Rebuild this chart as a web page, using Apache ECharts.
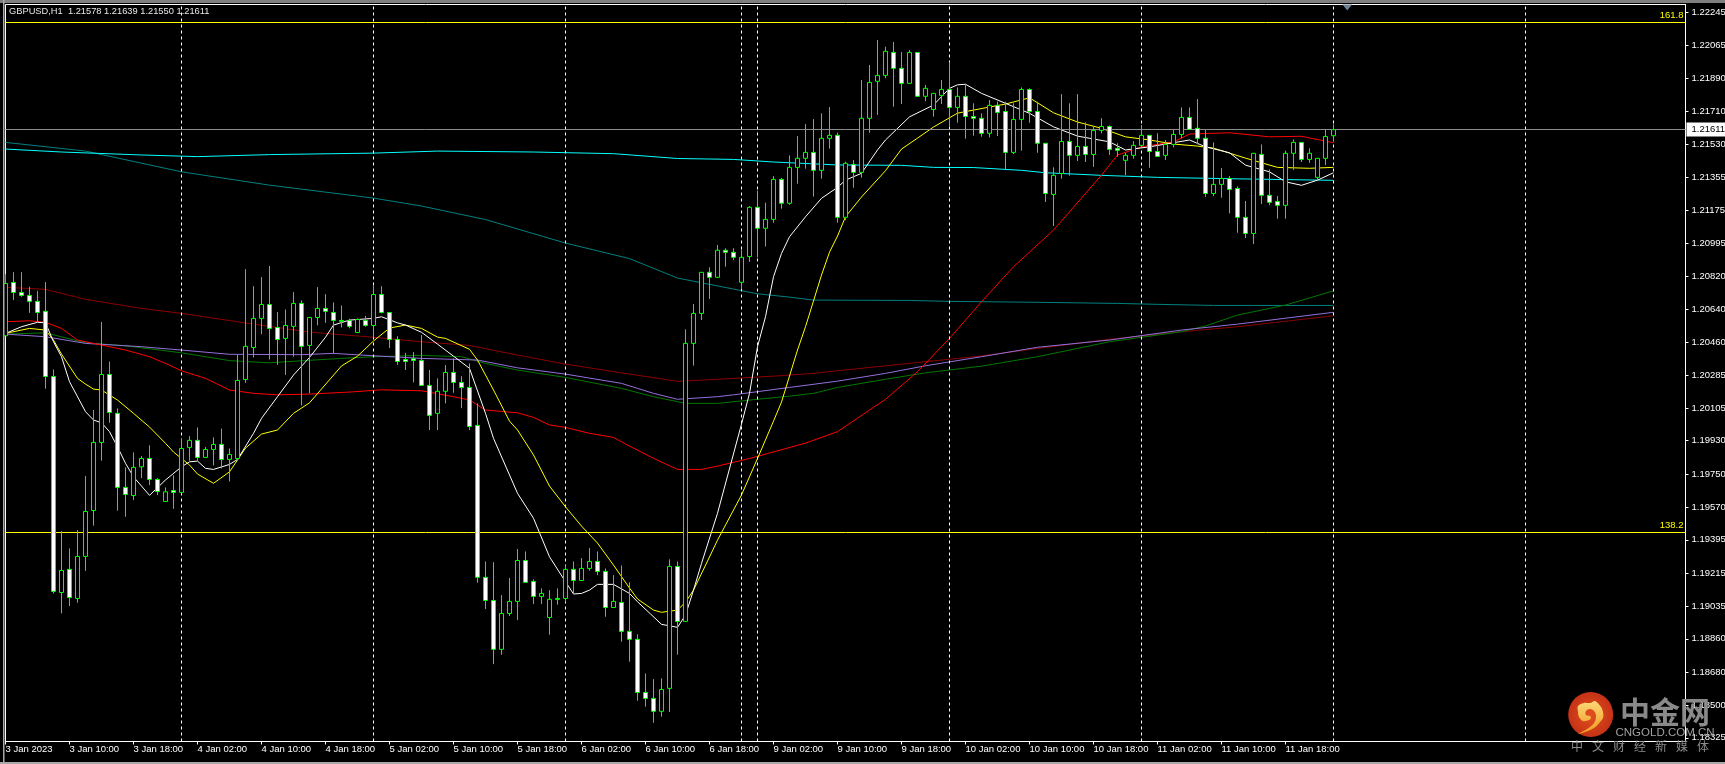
<!DOCTYPE html>
<html><head><meta charset="utf-8">
<style>html,body{margin:0;padding:0;background:#000}#c{width:1725px;height:764px}</style>
<script src="https://cdn.jsdelivr.net/npm/echarts@6/dist/echarts.min.js"></script>
</head><body><div id="c"></div>
<script>
const chartTitle = 'GBPUSD,H1  1.21578 1.21639 1.21550 1.21611';
const tickLabels = ['3 Jan 2023','3 Jan 10:00','3 Jan 18:00','4 Jan 02:00','4 Jan 10:00','4 Jan 18:00','5 Jan 02:00','5 Jan 10:00','5 Jan 18:00','6 Jan 02:00','6 Jan 10:00','6 Jan 18:00','9 Jan 02:00','9 Jan 10:00','9 Jan 18:00','10 Jan 02:00','10 Jan 10:00','10 Jan 18:00','11 Jan 02:00','11 Jan 10:00','11 Jan 18:00'];
const priceTicks = [1.22245,1.22065,1.21890,1.21710,1.21530,1.21355,1.21175,1.20995,1.20820,1.20640,1.20460,1.20285,1.20105,1.19930,1.19750,1.19570,1.19395,1.19215,1.19035,1.18860,1.18680,1.18500,1.18325];
const separators = [22,46,70,92,94,118,142,166,190];
const bidPrice = 1.21611, fib1618 = 1.22191, fib1382 = 1.19436;

const open = [1.20497,1.20785,1.20731,1.20715,1.20683,1.20629,1.20277,1.19110,1.19235,1.19078,1.19305,1.19553,1.19921,1.20288,1.20078,1.19678,1.19634,1.19789,1.19834,1.19721,1.19602,1.19661,1.19651,1.19894,1.19932,1.19840,1.19883,1.19910,1.19829,1.19834,1.20261,1.20434,1.20591,1.20666,1.20542,1.20483,1.20548,1.20672,1.20445,1.20596,1.20645,1.20623,1.20580,1.20580,1.20515,1.20580,1.20553,1.20720,1.20623,1.20477,1.20369,1.20373,1.20364,1.20229,1.20078,1.20197,1.20299,1.20245,1.20218,1.20013,1.19192,1.19067,1.18803,1.18997,1.19062,1.19283,1.19170,1.19089,1.18975,1.19078,1.19078,1.19235,1.19175,1.19240,1.19278,1.19224,1.19029,1.19056,1.18900,1.18857,1.18570,1.18538,1.18468,1.18592,1.19251,1.18954,1.20456,1.20618,1.20840,1.20813,1.20959,1.20948,1.20786,1.20925,1.21191,1.21078,1.21126,1.21342,1.21213,1.21407,1.21456,1.21488,1.21391,1.21564,1.21580,1.21137,1.21423,1.21380,1.21672,1.21872,1.21904,1.22028,1.21942,1.21861,1.22028,1.21791,1.21720,1.21796,1.21828,1.21731,1.21791,1.21682,1.21672,1.21591,1.21742,1.21709,1.21488,1.21666,1.21828,1.21709,1.21537,1.21261,1.21374,1.21547,1.21472,1.21520,1.21477,1.21607,1.21628,1.21510,1.21445,1.21472,1.21526,1.21580,1.21493,1.21472,1.21531,1.21585,1.21677,1.21618,1.21564,1.21266,1.21315,1.21347,1.21293,1.21137,1.21050,1.21477,1.21256,1.21223,1.21202,1.21483,1.21542,1.21450,1.21353,1.21456,1.21578];
const high = [1.20830,1.20841,1.20841,1.20762,1.20740,1.20787,1.20315,1.19442,1.19348,1.19447,1.19739,1.20096,1.20571,1.20358,1.20105,1.19786,1.19867,1.19847,1.19905,1.19728,1.19678,1.19743,1.19942,1.19955,1.20002,1.19897,1.19948,1.19996,1.19888,1.20394,1.20857,1.20765,1.20814,1.20874,1.20625,1.20639,1.20733,1.20688,1.20596,1.20760,1.20722,1.20677,1.20661,1.20589,1.20591,1.20605,1.20769,1.20765,1.20623,1.20495,1.20405,1.20409,1.20501,1.20312,1.20267,1.20339,1.20375,1.20279,1.20348,1.20132,1.19278,1.19274,1.19096,1.19188,1.19345,1.19332,1.19181,1.19132,1.19123,1.19132,1.19256,1.19278,1.19296,1.19350,1.19332,1.19240,1.19204,1.19256,1.19165,1.18884,1.18673,1.18642,1.18646,1.19289,1.19278,1.20532,1.20669,1.20840,1.20867,1.20988,1.20970,1.20970,1.20961,1.21198,1.21281,1.21216,1.21360,1.21350,1.21472,1.21576,1.21641,1.21668,1.21699,1.21733,1.21594,1.21438,1.21447,1.21879,1.21960,1.22095,1.22059,1.22084,1.22030,1.22041,1.22028,1.21852,1.21807,1.21879,1.21976,1.21839,1.21855,1.21753,1.21699,1.21771,1.21762,1.21762,1.21753,1.21839,1.21834,1.21762,1.21537,1.21407,1.21803,1.21753,1.21803,1.21650,1.21627,1.21673,1.21634,1.21537,1.21486,1.21549,1.21636,1.21582,1.21591,1.21555,1.21609,1.21731,1.21731,1.21776,1.21609,1.21542,1.21403,1.21360,1.21304,1.21225,1.21483,1.21531,1.21396,1.21252,1.21497,1.21558,1.21542,1.21510,1.21456,1.21609,1.21639];
const low = [1.20497,1.20690,1.20708,1.20621,1.20569,1.20211,1.19105,1.18997,1.19037,1.19055,1.19227,1.19471,1.19822,1.20027,1.19552,1.19519,1.19609,1.19728,1.19690,1.19636,1.19600,1.19562,1.19645,1.19822,1.19822,1.19840,1.19797,1.19780,1.19710,1.19825,1.20243,1.20380,1.20506,1.20369,1.20340,1.20286,1.20384,1.20121,1.20186,1.20553,1.20567,1.20402,1.20542,1.20537,1.20515,1.20546,1.20488,1.20618,1.20431,1.20340,1.20312,1.20245,1.20227,1.19988,1.19988,1.20132,1.20189,1.20106,1.19988,1.19163,1.19020,1.18723,1.18774,1.18983,1.18961,1.19163,1.19048,1.19048,1.18882,1.19044,1.19058,1.19105,1.19174,1.19228,1.19204,1.18979,1.19029,1.18844,1.18736,1.18525,1.18493,1.18406,1.18439,1.18464,1.18774,1.18954,1.20336,1.20582,1.20696,1.20811,1.20870,1.20907,1.20753,1.20896,1.20921,1.20979,1.21108,1.21184,1.21205,1.21319,1.21400,1.21249,1.21346,1.21508,1.21108,1.21122,1.21297,1.21351,1.21594,1.21690,1.21888,1.21735,1.21749,1.21861,1.21791,1.21765,1.21681,1.21749,1.21627,1.21648,1.21562,1.21578,1.21573,1.21569,1.21576,1.21393,1.21479,1.21497,1.21648,1.21486,1.21220,1.21090,1.21346,1.21362,1.21441,1.21436,1.21410,1.21591,1.21474,1.21465,1.21365,1.21454,1.21515,1.21405,1.21465,1.21447,1.21515,1.21564,1.21609,1.21531,1.21248,1.21252,1.21243,1.21158,1.21054,1.21025,1.20993,1.21209,1.21203,1.21130,1.21130,1.21393,1.21436,1.21432,1.21338,1.21419,1.21550];
const close = [1.20780,1.20731,1.20715,1.20683,1.20623,1.20277,1.19116,1.19229,1.19083,1.19305,1.19548,1.19921,1.20288,1.20083,1.19678,1.19640,1.19786,1.19834,1.19721,1.19656,1.19654,1.19651,1.19888,1.19932,1.19840,1.19883,1.19910,1.19829,1.19856,1.20256,1.20440,1.20591,1.20666,1.20537,1.20477,1.20553,1.20672,1.20440,1.20596,1.20645,1.20629,1.20580,1.20575,1.20548,1.20585,1.20553,1.20720,1.20623,1.20477,1.20358,1.20358,1.20364,1.20229,1.20067,1.20197,1.20299,1.20245,1.20218,1.20007,1.19192,1.19067,1.18803,1.18997,1.19062,1.19283,1.19165,1.19089,1.19105,1.19073,1.19073,1.19235,1.19175,1.19240,1.19278,1.19224,1.19029,1.19062,1.18900,1.18857,1.18570,1.18538,1.18468,1.18586,1.19251,1.18954,1.20456,1.20618,1.20840,1.20813,1.20959,1.20948,1.20921,1.20921,1.21191,1.21078,1.21126,1.21342,1.21213,1.21407,1.21456,1.21488,1.21391,1.21564,1.21580,1.21137,1.21429,1.21380,1.21672,1.21866,1.21904,1.22034,1.21942,1.21861,1.22028,1.21791,1.21834,1.21807,1.21828,1.21731,1.21791,1.21682,1.21672,1.21591,1.21742,1.21704,1.21488,1.21666,1.21828,1.21709,1.21537,1.21266,1.21364,1.21547,1.21472,1.21520,1.21477,1.21607,1.21628,1.21504,1.21499,1.21472,1.21526,1.21580,1.21493,1.21466,1.21531,1.21585,1.21677,1.21612,1.21564,1.21266,1.21315,1.21347,1.21288,1.21137,1.21050,1.21483,1.21256,1.21218,1.21202,1.21483,1.21542,1.21450,1.21483,1.21456,1.21574,1.21611];

const whiteIdx = [0,2,4,5,6,7,8,10,11,12,13,14,15,16,18,20,22,23,24,25,26,28,29,31,32,34,36,38,40,41,43,46,47,49,50,52,54,56,58,60,61,63,64,66,68,70,71,72,73,74,76,78,79,82,84,85,86,87,89,92,93,94,95,96,97,98,100,102,104,105,107,109,110,113,116,118,119,120,122,125,128,131,134,138,140,143,148,150,153,155,158,160,162,164,166];
const whiteVal = [1.20510,1.20546,1.20570,1.20567,1.20465,1.20384,1.20249,1.20087,1.20042,1.20027,1.19979,1.19897,1.19808,1.19735,1.19635,1.19718,1.19789,1.19816,1.19820,1.19781,1.19775,1.19802,1.19829,1.19970,1.20051,1.20168,1.20285,1.20380,1.20489,1.20555,1.20582,1.20591,1.20600,1.20567,1.20555,1.20516,1.20452,1.20387,1.20321,1.20078,1.19943,1.19745,1.19646,1.19511,1.19303,1.19168,1.19102,1.19105,1.19123,1.19154,1.19154,1.19105,1.19060,1.18938,1.18922,1.18988,1.19123,1.19267,1.19538,1.20020,1.20186,1.20438,1.20600,1.20816,1.20942,1.21032,1.21140,1.21240,1.21299,1.21338,1.21375,1.21501,1.21555,1.21680,1.21744,1.21834,1.21853,1.21856,1.21807,1.21753,1.21699,1.21626,1.21576,1.21545,1.21501,1.21518,1.21555,1.21518,1.21486,1.21419,1.21383,1.21329,1.21310,1.21338,1.21378];
const yellowIdx = [0,3,5,6,7,9,10,11,12,14,16,18,20,21,23,24,26,28,30,32,34,36,38,42,44,46,48,50,52,54,55,58,59,61,63,64,66,68,70,72,74,76,78,79,81,82,84,85,86,88,89,92,94,96,97,99,100,102,103,104,105,107,110,112,114,116,119,123,125,128,131,134,137,140,143,146,149,151,155,159,163,166];
const yellowVal = [1.20510,1.20537,1.20528,1.20474,1.20398,1.20267,1.20236,1.20209,1.20204,1.20150,1.20078,1.20004,1.19916,1.19869,1.19799,1.19750,1.19700,1.19762,1.19890,1.19966,1.19988,1.20078,1.20135,1.20334,1.20387,1.20469,1.20539,1.20555,1.20537,1.20490,1.20483,1.20424,1.20366,1.20204,1.20036,1.19988,1.19853,1.19685,1.19573,1.19469,1.19377,1.19258,1.19134,1.19075,1.19015,1.19003,1.19015,1.19058,1.19123,1.19302,1.19393,1.19637,1.19834,1.20036,1.20139,1.20420,1.20546,1.20825,1.20949,1.21036,1.21140,1.21247,1.21389,1.21506,1.21565,1.21625,1.21700,1.21733,1.21749,1.21783,1.21702,1.21652,1.21618,1.21572,1.21555,1.21533,1.21522,1.21511,1.21457,1.21407,1.21402,1.21407];
const redIdx = [0,3,5,7,9,12,15,18,20,22,25,28,31,34,38,43,47,52,56,58,60,64,66,68,70,73,76,78,81,84,87,89,93,100,104,110,114,118,122,126,131,137,139,142,146,148,153,158,162,166];
const redVal = [1.20573,1.20578,1.20570,1.20537,1.20474,1.20447,1.20420,1.20384,1.20348,1.20308,1.20267,1.20204,1.20186,1.20178,1.20182,1.20193,1.20205,1.20200,1.20168,1.20150,1.20096,1.20081,1.20056,1.20015,1.20002,1.19970,1.19948,1.19901,1.19835,1.19775,1.19775,1.19793,1.19834,1.19917,1.19979,1.20154,1.20303,1.20483,1.20681,1.20870,1.21068,1.21365,1.21474,1.21518,1.21545,1.21587,1.21594,1.21572,1.21575,1.21540];
const maroonIdx = [0,5,10,17,22,31,38,46,52,58,64,70,77,84,89,91,96,101,104,115,122,129,138,147,154,166];
const maroonVal = [1.20759,1.20748,1.20694,1.20645,1.20618,1.20560,1.20517,1.20489,1.20465,1.20445,1.20393,1.20344,1.20297,1.20251,1.20262,1.20267,1.20279,1.20294,1.20308,1.20357,1.20388,1.20429,1.20478,1.20519,1.20546,1.20605];
const purpleIdx = [0,5,10,17,22,28,37,41,46,52,59,64,70,77,81,84,89,91,98,104,110,115,122,129,138,147,154,166];
const purpleVal = [1.20506,1.20492,1.20456,1.20438,1.20420,1.20397,1.20395,1.20402,1.20389,1.20375,1.20366,1.20324,1.20290,1.20240,1.20186,1.20154,1.20168,1.20178,1.20218,1.20252,1.20294,1.20335,1.20384,1.20435,1.20474,1.20528,1.20560,1.20624];
const greenIdx = [0,5,10,15,22,28,33,37,42,46,52,57,60,64,70,77,81,85,89,94,98,101,104,110,115,122,129,138,142,147,150,154,160,166];
const greenVal = [1.20506,1.20513,1.20459,1.20443,1.20405,1.20363,1.20351,1.20362,1.20375,1.20384,1.20391,1.20384,1.20348,1.20312,1.20272,1.20213,1.20168,1.20132,1.20132,1.20154,1.20171,1.20186,1.20218,1.20262,1.20297,1.20333,1.20384,1.20465,1.20489,1.20519,1.20550,1.20609,1.20663,1.20740];
const cyanIdx = [0,7,17,24,33,46,54,66,76,84,91,96,104,112,116,121,127,130,137,144,154,166];
const cyanVal = [1.21506,1.21490,1.21474,1.21465,1.21476,1.21484,1.21495,1.21490,1.21481,1.21455,1.21450,1.21436,1.21420,1.21418,1.21407,1.21406,1.21391,1.21378,1.21364,1.21353,1.21345,1.21337];
const tealIdx = [0,10,22,33,46,52,60,70,78,84,92,94,98,101,113,118,129,139,144,151,166];
const tealVal = [1.21542,1.21495,1.21383,1.21311,1.21241,1.21198,1.21125,1.20998,1.20914,1.20809,1.20741,1.20724,1.20706,1.20690,1.20688,1.20683,1.20678,1.20672,1.20667,1.20661,1.20661];

const SLOTS = 211;
const categories = [];
for (let i = 0; i < SLOTS; i++) categories.push(i % 8 === 0 && tickLabels[i / 8] ? tickLabels[i / 8] : '');
const candles = open.map((o, i) => [o, close[i], low[i], high[i]]);
const zip = (a, b) => a.map((x, i) => [x, b[i]]);
const FONT = '"Liberation Sans", Arial, sans-serif';

const lineSeries = (name, idx, val, color, extra) => Object.assign({
  name, type: 'line', data: zip(idx, val), showSymbol: false, symbol: 'none', z: 2,
  lineStyle: { color, width: 1 }, silent: true, clip: true
}, extra || {});

const hLine = (v, color, label) => ({
  yAxis: v, lineStyle: { color, width: 1, type: 'solid' }, label
});

const chart = echarts.init(document.getElementById('c'), null, { renderer: 'canvas' });
const g = [];
g.push({ type: 'rect', shape: { x: 0, y: 0, width: 1725, height: 3 }, style: { fill: '#7f7f7f' }, z: 90 });
g.push({ type: 'rect', shape: { x: 3, y: 0, width: 1.5, height: 764 }, style: { fill: '#a8a8a8' }, z: 90 });
g.push({ type: 'rect', shape: { x: 0, y: 762, width: 1725, height: 2 }, style: { fill: '#a8a8a8' }, z: 90 });
g.push({ type: 'polygon', shape: { points: [[1342.5, 4.5], [1352, 4.5], [1347.2, 10.5]] }, style: { fill: '#6d8296' }, z: 90 });
g.push({ type: 'circle', shape: { cx: 1590.7, cy: 714.5, r: 22.5 }, style: { fill: { type: 'radial', x: .5, y: .5, r: .6, colorStops: [{ offset: 0, color: '#e2501f' }, { offset: 1, color: '#bf2c14' }] } }, z: 95 });
g.push({ type: 'polygon', shape: { smooth: 0.35, points: [[1578,712],[1578,706],[1584,703],[1590,703],[1595,701],[1601,707],[1603,712],[1603,718],[1600,722],[1594,728],[1585,732],[1578,734],[1587,729],[1594,723],[1596,716],[1594,711],[1590,709],[1586,711],[1586,715],[1590,716],[1591,718],[1589,720],[1583,721],[1579,717]] }, style: { fill: { type: 'linear', x: 0, y: 0, x2: 0, y2: 1, colorStops: [{ offset: 0, color: '#fbd777' }, { offset: 1, color: '#f19a1c' }] } }, z: 96 });
g.push({ type: 'text', x: 1665, y: 711.5, style: { text: '中金网', fill: '#8a8a8a', font: 'bold 30px "Noto Sans CJK SC"', align: 'center', verticalAlign: 'middle' }, z: 96 });
g.push({ type: 'text', x: 1665, y: 733, style: { text: 'CNGOLD.COM.CN', fill: '#a0a0a0', font: '11.5px "Liberation Sans"', align: 'center', verticalAlign: 'middle' }, z: 96 });
const slogan = ['中', '文', '财', '经', '新', '媒', '体'];
slogan.forEach((ch, i) => g.push({ type: 'text', x: 1577 + i * 21, y: 746, style: { text: ch, fill: '#8c8c8c', font: '12px "Noto Sans CJK SC"', align: 'center', verticalAlign: 'middle' }, z: 96 }));

chart.setOption({
  animation: false,
  backgroundColor: '#000',
  title: { text: chartTitle, left: 9, top: 7, padding: 0, textStyle: { color: '#e8e8e8', fontSize: 9.3, fontWeight: 'normal', fontFamily: FONT } },
  grid: { left: 5.5, top: 4.5, width: 1680, height: 737, show: true, borderColor: '#fff', borderWidth: 1, backgroundColor: '#000', containLabel: false, outerBoundsMode: 'none' },
  xAxis: {
    type: 'category', data: categories, boundaryGap: false,
    axisLine: { show: true, lineStyle: { color: '#fff', width: 1 } },
    axisTick: { show: true, length: 3, lineStyle: { color: '#fff' }, interval: (i, v) => v !== '' },
    axisLabel: { show: true, color: '#fff', fontSize: 9.5, fontFamily: FONT, align: 'left', margin: 3, interval: (i, v) => v !== '', hideOverlap: false },
    splitLine: { show: false }
  },
  yAxis: {
    type: 'value', position: 'right', min: 1.18305, max: 1.22287, scale: true,
    axisLine: { show: true, lineStyle: { color: '#fff', width: 1 } },
    axisTick: { show: true, length: 3, lineStyle: { color: '#fff' }, customValues: priceTicks },
    axisLabel: { show: true, color: '#fff', fontSize: 9.5, fontFamily: FONT, margin: 6, customValues: priceTicks, formatter: v => v.toFixed(5) },
    splitLine: { show: false }
  },
  series: [
    lineSeries('teal', tealIdx, tealVal, '#008080', {
      z: 1,
      markLine: {
        silent: true, symbol: 'none', animation: false, label: { show: false },
        lineStyle: { color: '#fff', width: 1, type: [3, 3] },
        data: separators.map(i => ({ xAxis: i }))
      }
    }),
    lineSeries('cyan', cyanIdx, cyanVal, '#00ffff'),
    lineSeries('maroon', maroonIdx, maroonVal, '#8b0000'),
    lineSeries('green', greenIdx, greenVal, '#007800'),
    lineSeries('purple', purpleIdx, purpleVal, '#9370db'),
    lineSeries('red', redIdx, redVal, '#ff0000'),
    lineSeries('yellow', yellowIdx, yellowVal, '#ffff00'),
    lineSeries('white', whiteIdx, whiteVal, '#ffffff', {
      markLine: {
        silent: true, symbol: 'none', animation: false, precision: 5,
        data: [
          hLine(fib1618, '#ffff00', { show: true, position: 'insideEndTop', formatter: '161.8', color: '#ffff00', fontSize: 9.5, fontFamily: FONT, distance: [2, 2] }),
          hLine(fib1382, '#ffff00', { show: true, position: 'insideEndTop', formatter: '138.2', color: '#ffff00', fontSize: 9.5, fontFamily: FONT, distance: [2, 2] }),
          hLine(bidPrice, '#8c8c8c', { show: true, position: 'end', formatter: bidPrice.toFixed(5), color: '#000', backgroundColor: '#fff', padding: [2, 1, 2, 5], fontSize: 9.5, fontFamily: FONT, distance: 1 })
        ]
      }
    }),
    {
      name: 'GBPUSD', type: 'candlestick', data: candles, z: 5, clip: false, silent: true, barWidth: 4,
      itemStyle: { color: '#000', color0: '#fff', borderColor: '#00ff00', borderColor0: '#00ff00', borderWidth: 1 }
    }
  ],
  graphic: g
});
</script></body></html>
